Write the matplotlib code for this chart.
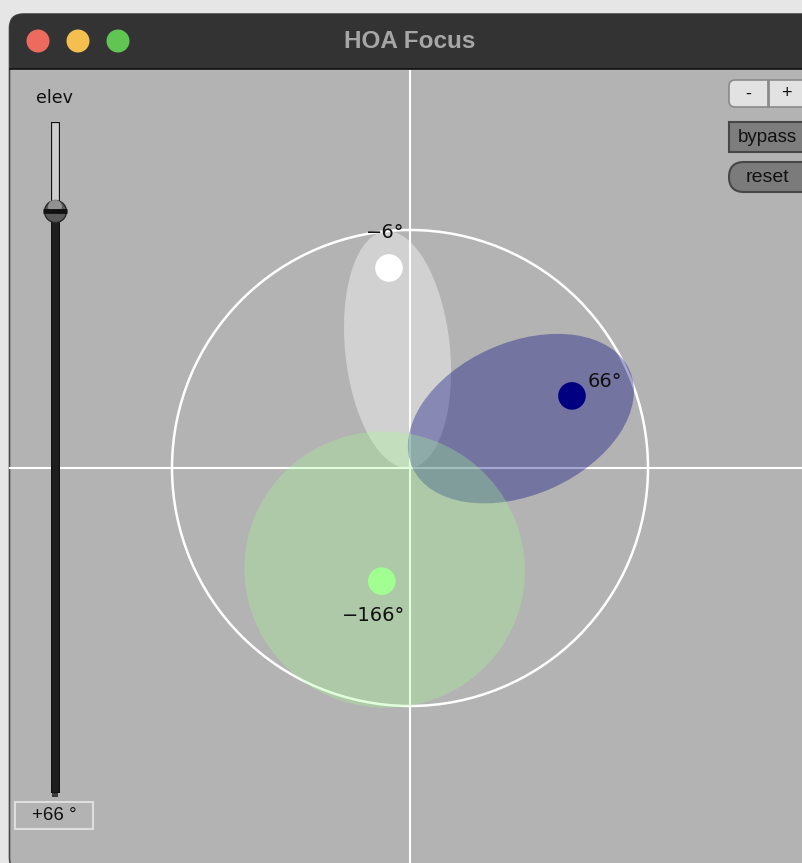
import numpy as np
import matplotlib
matplotlib.use("Agg")
import matplotlib.pyplot as plt
from matplotlib.patches import Ellipse, Circle, Rectangle, FancyBboxPatch

# --- data ---
azimuth = [-6, 66, -166]            # degrees, clockwise from top
dot_radius = [0.845, 0.745, 0.49]   # normalised to the outer circle
lobe_offset = [0.50, 0.51, 0.44]    # distance of lobe centre from origin
lobe_length = [0.50, 0.50, 0.58]    # semi-axis along the source direction
lobe_width = [0.22, 0.32, 0.59]     # semi-axis across the source direction
elevation = 66
elev_range = (-90, 90)

src_colors = ["#ffffff", "#000080", "#a0ff90"]
lobe_alpha = [0.40, 0.35, 0.30]

W, H = 802, 863
BG = "#b3b3b3"

fig = plt.figure(figsize=(W / 100, H / 100), dpi=100, facecolor="#e6e6e6")

# ---------------------------------------------------------------
# window chrome, drawn in pixel coordinates
# ---------------------------------------------------------------
ax_bg = fig.add_axes([0, 0, 1, 1])
ax_bg.set_xlim(0, W)
ax_bg.set_ylim(H, 0)
ax_bg.axis("off")

window = FancyBboxPatch((9.5, 14), 900, 858, boxstyle="round,pad=0,rounding_size=14",
                        facecolor=BG, edgecolor="#4a4a4a", lw=1.2, zorder=1)
ax_bg.add_patch(window)
title_bar = Rectangle((0, 0), W + 50, 69.5, facecolor="#333333", edgecolor="none", zorder=2)
ax_bg.add_patch(title_bar)
title_bar.set_clip_path(window)
ax_bg.plot([9.5, W], [69.5, 69.5], color="#111111", lw=1.2, zorder=3)

for x, c in zip([38, 78, 118], ["#ec6a5e", "#f4bf4f", "#61c554"]):
    ax_bg.add_patch(Circle((x, 41), 11.5, facecolor=c, edgecolor="none", zorder=4))
ax_bg.text(410, 41, "HOA Focus", ha="center", va="center", fontsize=17.5,
           fontweight="bold", color="#a6a6a6", family="Liberation Sans", zorder=4)

# right hand buttons
ax_bg.add_patch(FancyBboxPatch((729, 80), 90, 27, boxstyle="round,pad=0,rounding_size=6",
                               facecolor="#e2e2e2", edgecolor="#8a8a8a", lw=1.2, zorder=4))
ax_bg.plot([768, 768], [81, 106], color="#8a8a8a", lw=2, zorder=5)
ax_bg.text(748, 94, "-", ha="center", va="center", fontsize=13, color="#111111",
           family="Liberation Sans", zorder=5)
ax_bg.text(786, 94, "+", ha="center", va="center", fontsize=13, color="#111111",
           family="Liberation Sans", zorder=5)
ax_bg.add_patch(Rectangle((728.5, 122), 90, 30, facecolor="#7d7d7d", edgecolor="#474747",
                          lw=1.5, zorder=4))
ax_bg.text(767, 137.5, "bypass", ha="center", va="center", fontsize=13.5, color="#111111",
           family="Liberation Sans", zorder=5)
ax_bg.add_patch(FancyBboxPatch((729, 162), 90, 30, boxstyle="round,pad=0,rounding_size=15",
                               facecolor="#7b7b7b", edgecolor="#474747", lw=1.5, zorder=4))
ax_bg.text(767, 177.5, "reset", ha="center", va="center", fontsize=14, color="#111111",
           family="Liberation Sans", zorder=5)

# elevation label and number box
ax_bg.text(54, 98, "elev", ha="center", va="center", fontsize=12.5, color="#111111", zorder=4)
ax_bg.add_patch(Rectangle((15, 802), 78, 27, facecolor="none", edgecolor="#dedede",
                          lw=1.5, zorder=4))
ax_bg.text(54, 815.5, f"+{elevation} °", ha="center", va="center", fontsize=13.5,
           color="#111111", family="Liberation Sans", zorder=4)

# ---------------------------------------------------------------
# elevation slider
# ---------------------------------------------------------------
ax_sl = fig.add_axes([50.5 / W, (H - 793) / H, 9 / W, 671 / H])
ax_sl.set_xlim(0, 1)
ax_sl.set_ylim(*elev_range)
ax_sl.axis("off")
ax_sl.set_zorder(3)
ax_sl.bar(0.5, elev_range[1] - elev_range[0], bottom=elev_range[0], width=1.0,
          color="#cdcdcd", edgecolor="#111111", lw=1.6)
ax_sl.bar(0.5, elevation - elev_range[0], bottom=elev_range[0], width=1.0,
          color="#1e1e1e", edgecolor="#111111", lw=1.6)
ax_sl.bar(0.5, 1.2, bottom=elev_range[0] - 1.2, width=0.6, color="#3c3c3c",
          edgecolor="none", clip_on=False)
ax_sl.scatter([0.5], [elevation], s=250, color="#5a5a5a", edgecolors="#2a2a2a",
              linewidths=1.0, zorder=5, clip_on=False)
ax_sl.scatter([0.5], [elevation + 1.3], s=100, marker="o", color="#a0a0a0",
              edgecolors="none", zorder=6, clip_on=False, alpha=0.8)
ax_sl.scatter([0.5], [elevation], s=280, marker="_", color="#111111",
              linewidths=3.5, zorder=7, clip_on=False)

# ---------------------------------------------------------------
# panner view, unit = outer circle radius
# ---------------------------------------------------------------
R = 238.0
cx, cy = 410.0, 468.0
left, top = 9.0, 70.0
ax = fig.add_axes([left / W, 0, (W - left) / W, (H - top) / H])
ax.set_xlim((left - cx) / R, (W - cx) / R)
ax.set_ylim((cy - H) / R, (cy - top) / R)
ax.set_aspect("equal")
ax.axis("off")
ax.set_zorder(2)

ax.axhline(0, color="white", lw=1.5, zorder=1)
ax.axvline(0, color="white", lw=1.5, zorder=1)
ax.add_patch(Circle((0, 0), 1.0, facecolor="none", edgecolor="white", lw=1.8, zorder=1))

for az, off, a, b, col, al in zip(azimuth, lobe_offset, lobe_length, lobe_width,
                                  src_colors, lobe_alpha):
    t = np.radians(az)
    ax.add_patch(Ellipse((off * np.sin(t), off * np.cos(t)), 2 * a, 2 * b,
                         angle=90 - az, facecolor=col, alpha=al, edgecolor="none", zorder=2))

for az, r, col in zip(azimuth, dot_radius, src_colors):
    t = np.radians(az)
    ax.add_patch(Circle((r * np.sin(t), r * np.cos(t)), 0.058, facecolor=col,
                        edgecolor="none", zorder=3))
    lr = r + 0.15
    ax.text(lr * np.sin(t), lr * np.cos(t), f"{az:d}°".replace("-", "\u2212"),
            ha="center", va="center", fontsize=14, color="#111111", zorder=4)

fig.savefig("out.png", dpi=100, facecolor=fig.get_facecolor())
